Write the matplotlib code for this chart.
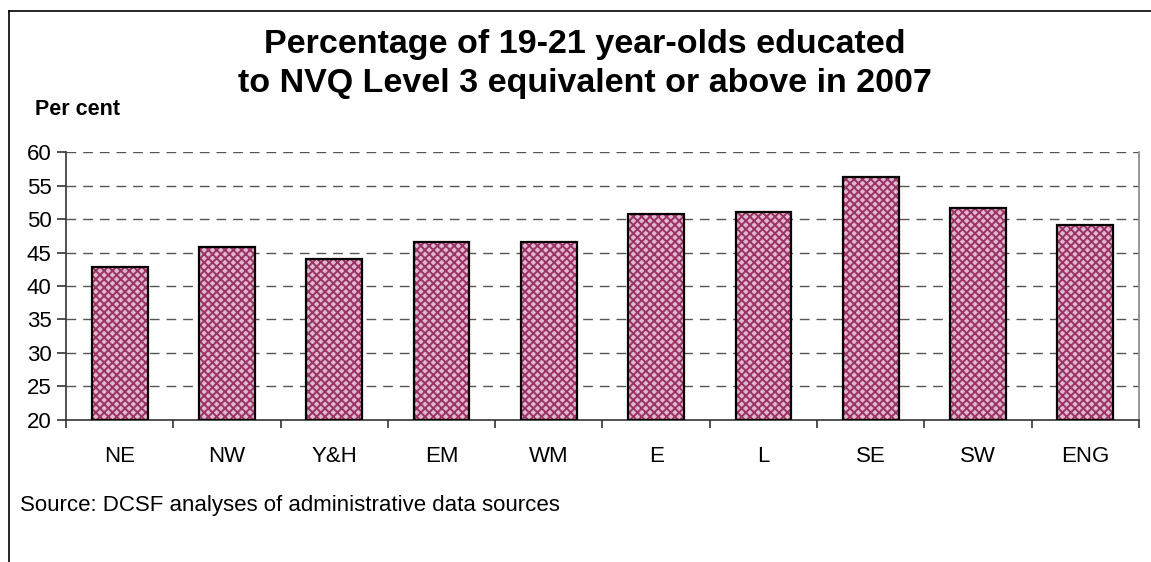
import matplotlib
matplotlib.use("Agg")
import matplotlib.pyplot as plt
from matplotlib.lines import Line2D

plt.rcParams['font.family'] = ['Liberation Sans', 'DejaVu Sans']
plt.rcParams['hatch.linewidth'] = 1.4

categories = ["NE", "NW", "Y&H", "EM", "WM", "E", "L", "SE", "SW", "ENG"]
values = [42.8, 45.8, 44.0, 46.6, 46.6, 50.7, 51.0, 56.2, 51.7, 49.1]
yticks = [20, 25, 30, 35, 40, 45, 50, 55, 60]

title_lines = ["Percentage of 19-21 year-olds educated",
               "to NVQ Level 3 equivalent or above in 2007"]
ylabel = "Per cent"
source = "Source: DCSF analyses of administrative data sources"

fig = plt.figure(figsize=(11.51, 5.62), dpi=100)
ax = fig.add_axes([0.0573, 0.2527, 0.9323, 0.4768])

x = list(range(len(categories)))
heights = [v - 20 for v in values]
ax.bar(x, heights, bottom=20, width=0.52,
       color="#e2b6cc", edgecolor="#993366", hatch="xxxx", linewidth=0, zorder=3)
ax.bar(x, heights, bottom=20, width=0.52,
       fill=False, edgecolor="black", linewidth=1.6, zorder=4)

ax.set_xlim(-0.5, len(categories) - 0.5)
ax.set_ylim(20, 60)
ax.set_yticks(yticks)
ax.set_yticklabels([str(t) for t in yticks], fontsize=16)
ax.set_xticks(x)
ax.set_xticklabels(categories, fontsize=16)
ax.tick_params(axis='x', length=0, pad=19)
ax.set_xticks([i - 0.5 for i in range(len(categories) + 1)], minor=True)
ax.tick_params(axis='x', which='minor', length=6, direction='out', color='#333333', width=1.2)
ax.tick_params(axis='y', length=6.5, direction='out', color='#333333', pad=4, width=1.2)

for t in yticks[1:]:
    ax.axhline(t, color="#555555", linestyle=(0, (7, 5)), linewidth=1.0, zorder=1)

ax.spines['top'].set_visible(False)
ax.spines['left'].set_color('#333333')
ax.spines['bottom'].set_color('#333333')
ax.spines['right'].set_color('#888888')
for s in ax.spines.values():
    s.set_linewidth(1.2)

fig.text(0.508, 0.9057, title_lines[0], ha='center', va='baseline',
         fontsize=24.5, fontweight='bold')
fig.text(0.508, 0.8363, title_lines[1], ha='center', va='baseline',
         fontsize=24.5, fontweight='bold')
fig.text(0.030, 0.806, ylabel, ha='left', va='center', fontsize=15.5, fontweight='bold')
fig.text(0.017, 0.101, source, ha='left', va='center', fontsize=16)

fig.add_artist(Line2D([0.0075, 0.0075], [0.0, 0.981], transform=fig.transFigure,
                      color='black', linewidth=1.2))
fig.add_artist(Line2D([0.0075, 1.0], [0.981, 0.981], transform=fig.transFigure,
                      color='black', linewidth=1.2))

fig.savefig("out.png", dpi=100)
